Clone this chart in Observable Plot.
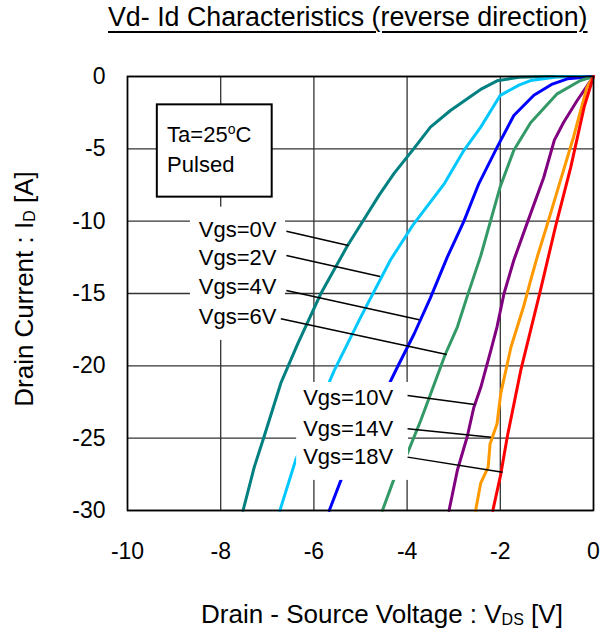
<!DOCTYPE html>
<html>
<head>
<meta charset="utf-8">
<script src="https://cdn.jsdelivr.net/npm/d3@7"></script>
<script src="https://cdn.jsdelivr.net/npm/@observablehq/plot@0.6"></script>
<style>
  html, body { margin: 0; padding: 0; background: #fff; }
  body { width: 605px; height: 635px; overflow: hidden; font-family: "Liberation Sans", Arial, sans-serif; }
  #title { position: relative; height: 40px; }
  #title span {
    position: absolute; left: 108px; top: 4px; font-size: 26.8px; line-height: 26.8px;
    white-space: nowrap; color: #000;
    text-decoration: underline; text-decoration-thickness: 2px; text-underline-offset: 5px;
  }
  #chart svg { display: block; }
</style>
</head>
<body>
<div id="title"><span>Vd- Id Characteristics (reverse direction)</span></div>
<div id="chart"></div>
<script>
// ---- Data ----
const xTicks = [-10, -8, -6, -4, -2, 0];
const yTicks = [0, -5, -10, -15, -20, -25, -30];

const vgsNames = ["Vgs=0V", "Vgs=2V", "Vgs=4V", "Vgs=6V", "Vgs=10V", "Vgs=14V", "Vgs=18V"];
const vgsColors = ["#008080", "#00C8FF", "#0000FF", "#339966", "#800080", "#FF9900", "#FF0000"];

// [VDS, ID] pairs per curve
const vgs0 = [[0,0],[-1.0,0],[-1.6,-0.05],[-2.07,-0.3],[-2.4,-0.85],[-3.07,-2.35],[-3.5,-3.5],[-3.86,-5.0],[-4.28,-6.7],[-4.6,-8.2],[-5.28,-11.7],[-5.85,-15.0],[-6.35,-18.5],[-6.71,-21.2],[-7.07,-24.9],[-7.28,-27.0],[-7.52,-30]];
const vgs2 = [[0,0],[-0.8,-0.03],[-1.35,-0.28],[-1.6,-0.6],[-2.0,-1.3],[-2.42,-3.5],[-2.78,-5.1],[-3.2,-7.4],[-3.86,-10.2],[-4.36,-12.7],[-4.99,-16.6],[-5.56,-20.3],[-5.96,-23.3],[-6.39,-26.5],[-6.73,-30]];
const vgs4 = [[0,0],[-0.56,-0.16],[-0.9,-0.55],[-1.28,-1.3],[-1.71,-2.7],[-2.07,-4.9],[-2.46,-7.4],[-2.78,-10.0],[-3.14,-12.5],[-3.5,-15.3],[-3.85,-17.8],[-4.21,-20.1],[-4.8,-24.0],[-5.42,-27.9],[-5.67,-30]];
const vgs6 = [[0,0],[-0.28,-0.28],[-0.78,-1.2],[-1.35,-3.2],[-1.71,-5.1],[-2.0,-7.6],[-2.21,-10.0],[-2.42,-12.4],[-2.71,-15.2],[-2.92,-17.3],[-3.18,-19.2],[-3.49,-21.9],[-3.71,-23.8],[-4.0,-26.1],[-4.29,-27.9],[-4.53,-30]];
const vgs10 = [[0,0],[-0.06,-0.28],[-0.35,-1.66],[-0.64,-3.16],[-0.84,-4.4],[-1.07,-7.0],[-1.42,-10.1],[-1.71,-12.7],[-1.92,-15.0],[-2.07,-17.3],[-2.2,-18.9],[-2.42,-21.5],[-2.57,-22.9],[-2.71,-24.9],[-2.92,-27.2],[-3.10,-30]];
const vgs14 = [[0,0],[-0.14,-0.74],[-0.43,-4.2],[-0.71,-7.2],[-0.99,-10.2],[-1.21,-12.5],[-1.35,-14.1],[-1.50,-15.9],[-1.77,-18.7],[-1.99,-21.9],[-2.07,-24.0],[-2.22,-25.4],[-2.26,-27.0],[-2.42,-28.1],[-2.53,-30]];
const vgs18 = [[0,0],[-0.2,-2.1],[-0.49,-6.3],[-0.81,-10.3],[-1.14,-14.8],[-1.56,-20.3],[-1.85,-24.9],[-1.99,-27.5],[-2.16,-30]];
const curves = [vgs0, vgs2, vgs4, vgs6, vgs10, vgs14, vgs18];

// Curve label annotations (data units)
const labelX = [-8.47, -8.47, -8.47, -8.47, -6.23, -6.23, -6.23];
const labelY = [-10.59, -12.55, -14.57, -16.62, -22.24, -24.35, -26.32];
// leader lines: start (x1,y1) -> end on curve (x2,y2)
const leadX1 = [-6.59, -6.59, -6.59, -6.71, -3.99, -3.99, -3.99];
const leadY1 = [-10.69, -12.37, -14.79, -16.75, -22.05, -24.35, -26.31];
const leadX2 = [-5.26, -4.58, -3.74, -3.15, -2.55, -2.20, -1.95];
const leadY2 = [-11.68, -13.82, -16.82, -19.22, -22.67, -24.93, -27.35];
// white label backgrounds
const bgX1 = [-8.65, -6.37];
const bgX2 = [-6.61, -3.97];
const bgY1 = [-9.03, -21.15];
const bgY2 = [-18.24, -27.92];

// condition box
const condText = ["Ta=25ºC", "Pulsed"];
const condX = [-9.15, -9.15];
const condY = [-4.06, -6.13];
const condBox = {x1: -9.36, x2: -6.895, y1: -1.96, y2: -8.34};

// ---- Build tables ----
const lineData = curves.flatMap((c, i) => c.map(([v, a]) => ({v, a, s: vgsNames[i]})));
const labels = vgsNames.map((n, i) => ({n, x: labelX[i], y: labelY[i]}));
const leaders = vgsNames.map((n, i) => ({x1: leadX1[i], y1: leadY1[i], x2: leadX2[i], y2: leadY2[i]}));
const bgs = bgX1.map((d, i) => ({x1: bgX1[i], x2: bgX2[i], y1: bgY1[i], y2: bgY2[i]}));
const conds = condText.map((t, i) => ({t, x: condX[i], y: condY[i]}));

const FONT = '"Liberation Sans", Arial, sans-serif';

const plot = Plot.plot({
  width: 605,
  height: 595,
  marginTop: 36,
  marginBottom: 125,
  marginLeft: 127,
  marginRight: 12,
  style: {fontFamily: FONT, fontSize: "23px", color: "#000", background: "#fff"},
  x: {domain: [-10, 0], ticks: xTicks, tickFormat: d => String(d), label: null},
  y: {domain: [-30, 0], ticks: yTicks, tickFormat: d => String(d), label: null},
  color: {domain: vgsNames, range: vgsColors},
  marks: [
    Plot.gridX(xTicks, {stroke: "#333", strokeOpacity: 1, strokeWidth: 1.3}),
    Plot.gridY(yTicks, {stroke: "#333", strokeOpacity: 1, strokeWidth: 1.3}),
    Plot.line(lineData, {x: "v", y: "a", z: "s", stroke: "s", strokeWidth: 3, strokeLinejoin: "round"}),
    Plot.rect(bgs, {x1: "x1", x2: "x2", y1: "y1", y2: "y2", fill: "#fff"}),
    Plot.link(leaders, {x1: "x1", y1: "y1", x2: "x2", y2: "y2", stroke: "#000", strokeWidth: 1.5}),
    Plot.text(labels, {x: "x", y: "y", text: "n", textAnchor: "start", lineAnchor: "middle", fontSize: 22, fill: "#000"}),
    Plot.rect([condBox], {x1: "x1", x2: "x2", y1: "y1", y2: "y2", fill: "#fff", stroke: "#000", strokeWidth: 2}),
    Plot.text(conds, {x: "x", y: "y", text: "t", textAnchor: "start", lineAnchor: "middle", fontSize: 22, fill: "#000"}),
    Plot.frame({stroke: "#000", strokeWidth: 1.6}),
    Plot.axisX(xTicks, {tickSize: 0, tickPadding: 32, tickFormat: d => String(d), fontSize: 23}),
    Plot.axisY(yTicks, {tickSize: 0, tickPadding: 22, tickFormat: d => String(d), fontSize: 23})
  ]
});

document.getElementById("chart").appendChild(plot);

// superscript "o" in Ta=25ºC
const svg = d3.select(plot);
svg.selectAll("text").filter(function() { return this.textContent === "Ta=25ºC"; }).each(function() {
  const t = d3.select(this);
  t.text(null);
  t.append("tspan").text("Ta=25");
  t.append("tspan").attr("font-size", "14px").attr("dy", "-8").text("o");
  t.append("tspan").attr("dy", "8").text("C");
});

// Axis titles with subscripts
const xt = svg.append("text")
  .attr("x", 201).attr("y", 583.3)
  .attr("text-anchor", "start")
  .attr("font-family", FONT).attr("font-size", 26).attr("fill", "#000");
xt.append("tspan").text("Drain - Source Voltage : V");
xt.append("tspan").attr("font-size", 16).attr("dy", 2).text("DS");
xt.append("tspan").attr("dy", -2).text(" [V]");

const yt = svg.append("text")
  .attr("transform", "translate(33.3,249) rotate(-90)")
  .attr("text-anchor", "middle")
  .attr("font-family", FONT).attr("font-size", 26).attr("fill", "#000");
yt.append("tspan").text("Drain Current : I");
yt.append("tspan").attr("font-size", 16).attr("dy", 2).text("D");
yt.append("tspan").attr("dy", -2).text(" [A]");
</script>
</body>
</html>
